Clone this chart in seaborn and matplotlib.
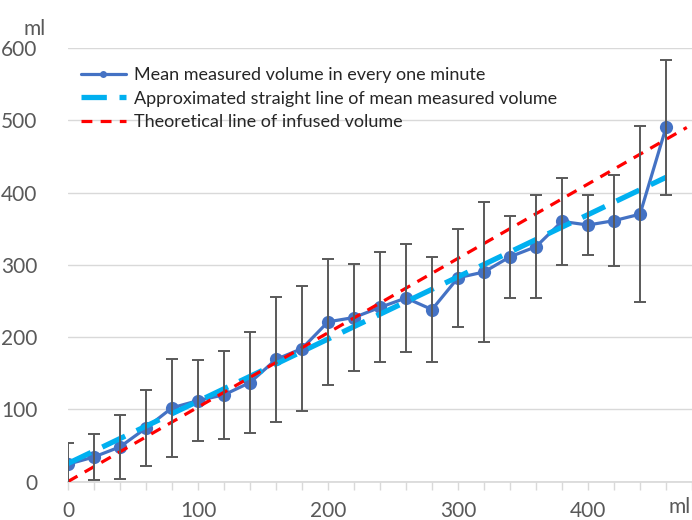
import numpy as np
import pandas as pd
import seaborn as sns
import matplotlib.pyplot as plt
from matplotlib.ticker import MultipleLocator

# infused volume (ml) vs mean measured volume (ml)
infused = [0, 20, 40, 60, 80, 100, 120, 140, 160, 180, 200, 220,
           240, 260, 280, 300, 320, 340, 360, 380, 400, 420, 440, 460]
mean_vol = [24, 34, 48, 74, 102, 112, 120, 137, 169, 184, 221, 227,
            241, 254, 238, 282, 290, 311, 325, 360, 355, 361, 370, 490]
sd_vol = [30, 32, 44, 52, 68, 56, 61, 70, 86, 87, 87, 74,
          76, 75, 73, 68, 97, 57, 71, 60, 42, 63, 122, 93]

# approximated straight line (end points)
approx_x = [0, 460]
approx_y = [25, 421]
# theoretical infused line (end points)
theo_x = [0, 476]
theo_y = [0, 490]

df = pd.DataFrame({'infused': infused, 'mean': mean_vol, 'sd': sd_vol})

sns.set_theme(style='white')
plt.rcParams['font.family'] = ['Lato', 'DejaVu Sans']

fig = plt.figure(figsize=(6.92, 5.2), dpi=100)
ax = fig.add_axes([0.0983, 0.074, 0.9017, 0.8337])

blue = '#4472C4'
cyan = '#00B0F0'
red = '#FF0000'
grey = '#595959'

sns.lineplot(data=df, x='infused', y='mean', ax=ax, color=blue, lw=2.3,
             marker='o', markersize=9.5, markeredgewidth=0, zorder=3,
             label='Mean measured volume in every one minute')
sns.lineplot(x=approx_x, y=approx_y, ax=ax, color=cyan, lw=3.8,
             dashes=False, zorder=4,
             label='Approximated straight line of mean measured volume')
ax.lines[-1].set_dashes([4.8, 2.4])
sns.lineplot(x=theo_x, y=theo_y, ax=ax, color=red, lw=2.3, zorder=5,
             label='Theoretical line of infused volume')
ax.lines[-1].set_dashes([3.4, 2.6])

ax.errorbar(df['infused'], df['mean'], yerr=df['sd'], fmt='none',
            ecolor=grey, elinewidth=1.4, capsize=4, capthick=1.4, zorder=6)

ax.set_xlim(0, 480)
ax.set_ylim(0, 600)
ax.xaxis.set_major_locator(MultipleLocator(100))
ax.xaxis.set_minor_locator(MultipleLocator(20))
ax.yaxis.set_major_locator(MultipleLocator(100))
ax.grid(axis='y', color='#D9D9D9', lw=1)
ax.set_axisbelow(True)
for s in ['top', 'right', 'left']:
    ax.spines[s].set_visible(False)
ax.spines['bottom'].set_color('#D9D9D9')
ax.tick_params(axis='x', which='both', bottom=True, length=6, width=1,
               color='#D9D9D9', labelsize=15, labelcolor=grey, pad=8)
ax.tick_params(axis='y', left=False, labelsize=15, labelcolor=grey, pad=16)
ax.set_xlabel('')
ax.set_ylabel('')

fig.text(0.05, 0.945, 'ml', fontsize=15, color=grey, ha='center', va='center')
fig.text(0.982, 0.025, 'ml', fontsize=15, color=grey, ha='center', va='center')

leg = ax.legend(loc='upper left', bbox_to_anchor=(0.0, 0.985), frameon=False,
                fontsize=13.0, handlelength=2.5, handletextpad=0.45,
                labelspacing=0.42, borderaxespad=0.3)
for h in leg.legend_handles:
    h.set_markersize(5)
for t in leg.get_texts():
    t.set_color('#262626')

fig.savefig('out.png', dpi=100)
